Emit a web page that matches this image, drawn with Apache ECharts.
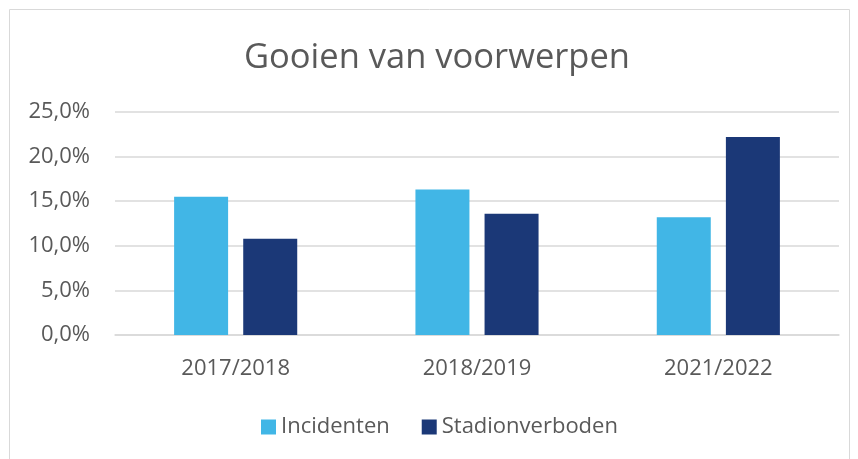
<!DOCTYPE html>
<html>
<head>
<meta charset="utf-8">
<script src="https://cdn.jsdelivr.net/npm/echarts@6/dist/echarts.min.js"></script>
<style>
html,body{margin:0;padding:0;background:#fff;}
#c{width:858px;height:459px;}
</style>
</head>
<body>
<div id="c"></div>
<script>
const categories = ['2017/2018', '2018/2019', '2021/2022'];
const incidenten = [15.5, 16.3, 13.2];
const stadionverboden = [10.8, 13.6, 22.2];
const seriesNames = ['Incidenten', 'Stadionverboden'];
const yTicks = { min: 0, max: 25, interval: 5 };

const chart = echarts.init(document.getElementById('c'), null, { renderer: 'canvas' });
const font = '"Open Sans", "Noto Sans", sans-serif';
chart.setOption({
  animation: false,
  graphic: [{
    type: 'rect',
    shape: { x: 9.5, y: 9.5, width: 840, height: 460 },
    style: { fill: 'none', stroke: '#d9d9d9', lineWidth: 1 }
  }],
  title: {
    text: 'Gooien van voorwerpen',
    left: 432, top: 36, textAlign: 'center',
    textStyle: { fontFamily: font, fontSize: 34.5, fontWeight: 'normal', color: '#595959' }
  },
  legend: {
    data: seriesNames,
    left: 256, top: 411,
    icon: 'rect', itemWidth: 15, itemHeight: 15, itemGap: 32,
    textStyle: { fontFamily: font, fontSize: 22, color: '#595959' }
  },
  grid: { left: 115, right: 19, top: 112, bottom: 124 },
  xAxis: {
    type: 'category', data: categories,
    axisLine: { lineStyle: { color: '#d9d9d9', width: 1.5 } },
    axisTick: { show: false },
    axisLabel: { fontFamily: font, fontSize: 22, color: '#595959', margin: 23 }
  },
  yAxis: {
    type: 'value', min: yTicks.min, max: yTicks.max, interval: yTicks.interval,
    axisLine: { show: false }, axisTick: { show: false },
    splitLine: { lineStyle: { color: '#d9d9d9', width: 1.5 } },
    axisLabel: {
      fontFamily: font, fontSize: 22, color: '#595959', margin: 25,
      formatter: v => v.toFixed(1).replace('.', ',') + '%'
    }
  },
  series: [
    { name: seriesNames[0], type: 'bar', data: incidenten, barWidth: 54, barGap: '28%',
      itemStyle: { color: '#41B6E6' } },
    { name: seriesNames[1], type: 'bar', data: stadionverboden, barWidth: 54, barGap: '28%',
      itemStyle: { color: '#1B3877' } }
  ]
});
</script>
</body>
</html>
